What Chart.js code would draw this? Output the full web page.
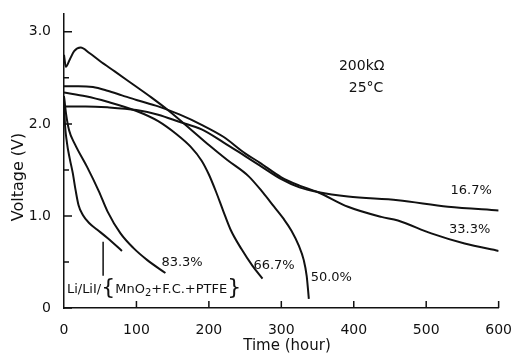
<!DOCTYPE html>
<html>
<head>
<meta charset="utf-8">
<script src="https://cdn.jsdelivr.net/npm/chart.js@4.4.0/dist/chart.umd.min.js"></script>
<style>
  html, body { margin: 0; padding: 0; background: #fff; }
</style>
</head>
<body>
<canvas id="chart" width="518" height="357"></canvas>
<script>
// discharge curves, time in hours, voltage in V
const t167 = [0, 30, 60, 100, 130, 160, 190, 220, 250, 270, 300, 325, 350, 392, 461, 530, 600];
const v167 = [2.19, 2.19, 2.18, 2.15, 2.10, 2.02, 1.94, 1.80, 1.65, 1.55, 1.40, 1.31, 1.26, 1.21, 1.17, 1.10, 1.06];

const t333 = [0, 20, 40, 60, 80, 100, 130, 160, 190, 220, 250, 270, 300, 325, 350, 392, 438, 461, 507, 553, 600];
const v333 = [2.41, 2.41, 2.40, 2.36, 2.31, 2.26, 2.19, 2.10, 1.99, 1.86, 1.68, 1.58, 1.42, 1.33, 1.26, 1.10, 0.99, 0.95, 0.81, 0.70, 0.62];

const t500 = [0, 2.5, 8, 14, 23, 35, 50, 70, 95, 120, 145, 175, 200, 225, 255, 275, 290, 303, 314, 324, 331, 335, 338];
const v500 = [2.75, 2.62, 2.70, 2.79, 2.83, 2.77, 2.68, 2.57, 2.43, 2.29, 2.14, 1.94, 1.77, 1.61, 1.43, 1.25, 1.10, 0.97, 0.84, 0.68, 0.52, 0.35, 0.10];

const t667 = [0, 30, 60, 100, 130, 155, 175, 190, 200, 210, 220, 230, 245, 260, 274];
const v667 = [2.34, 2.30, 2.24, 2.14, 2.03, 1.89, 1.75, 1.60, 1.45, 1.26, 1.05, 0.85, 0.64, 0.46, 0.32];

const t833 = [0, 3, 7, 15, 32, 48, 60, 78, 96, 115, 140];
const v833 = [2.30, 2.10, 1.93, 1.78, 1.53, 1.27, 1.05, 0.81, 0.65, 0.52, 0.38];

const tCell = [0, 1, 4, 8, 12, 16, 20, 26, 35, 46, 60, 80];
const vCell = [2.30, 2.05, 1.80, 1.62, 1.47, 1.28, 1.12, 1.01, 0.92, 0.85, 0.76, 0.62];

const xTicks = [0, 100, 200, 300, 400, 500, 600];
const yMajor = [0, 1, 2, 3];
const yMinor = [0.5, 1.5, 2.5];

// curve labels [text, time, voltage]
const curveLabels = [
  ['16.7%', 562, 1.27],
  ['33.3%', 560, 0.85],
  ['66.7%', 290, 0.46],
  ['50.0%', 369, 0.33],
  ['83.3%', 163, 0.49]
];
const pointerT = 54;
const pointerV = [0.35, 0.72];

const FONT = '"DejaVu Sans", sans-serif';
const INK = '#111';

const pts = (ts, vs) => ts.map((t, i) => ({ x: t, y: vs[i] }));

const series = [
  pts(t167, v167), pts(t333, v333), pts(t500, v500),
  pts(t667, v667), pts(t833, v833), pts(tCell, vCell)
];

const overlay = {
  id: 'overlay',
  afterDraw(chart) {
    const ctx = chart.ctx;
    const xs = chart.scales.x, ys = chart.scales.y;
    const area = chart.chartArea;
    ctx.save();
    ctx.strokeStyle = INK;
    ctx.fillStyle = INK;
    ctx.lineWidth = 1.5;

    // inward tick marks
    ctx.beginPath();
    yMajor.forEach(v => {
      const y = ys.getPixelForValue(v);
      ctx.moveTo(area.left, y); ctx.lineTo(area.left + 8, y);
    });
    yMinor.forEach(v => {
      const y = ys.getPixelForValue(v);
      ctx.moveTo(area.left, y); ctx.lineTo(area.left + 5, y);
    });
    xTicks.slice(1).forEach(t => {
      const x = xs.getPixelForValue(t);
      ctx.moveTo(x, area.bottom); ctx.lineTo(x, area.bottom - 7);
    });
    // pointer to the cell curve
    const px = xs.getPixelForValue(pointerT);
    ctx.moveTo(px, ys.getPixelForValue(pointerV[0]));
    ctx.lineTo(px, ys.getPixelForValue(pointerV[1]));
    ctx.stroke();

    ctx.textBaseline = 'middle';
    ctx.font = '13px ' + FONT;
    ctx.textAlign = 'center';
    curveLabels.forEach(([txt, t, v]) => {
      ctx.fillText(txt, xs.getPixelForValue(t), ys.getPixelForValue(v));
    });
    ctx.font = '14px ' + FONT;
    ctx.fillText('200kΩ', xs.getPixelForValue(411), ys.getPixelForValue(2.63));
    ctx.fillText('25°C', xs.getPixelForValue(417), ys.getPixelForValue(2.39));

    // cell composition
    let x = xs.getPixelForValue(4);
    const y = ys.getPixelForValue(0.2);
    ctx.textAlign = 'left';
    const put = (s, font, dy) => {
      ctx.font = font;
      ctx.fillText(s, x, y + (dy || 0));
      x += ctx.measureText(s).width;
    };
    put('Li/LiI/', '13px ' + FONT);
    put('{', '22px ' + FONT, -1);
    put('MnO', '13px ' + FONT);
    put('2', '10px ' + FONT, 4);
    put('+F.C.+PTFE', '13px ' + FONT);
    put('}', '22px ' + FONT, -1);

    // axis titles
    ctx.font = '15px ' + FONT;
    ctx.textAlign = 'center';
    ctx.fillText('Time (hour)', 287, 346);
    ctx.translate(19, 177);
    ctx.rotate(-Math.PI / 2);
    ctx.font = '16px ' + FONT;
    ctx.fillText('Voltage (V)', 0, 0);
    ctx.restore();
  }
};

new Chart(document.getElementById('chart'), {
  type: 'line',
  data: {
    datasets: series.map(d => ({
      data: d,
      borderColor: INK,
      borderWidth: 2,
      pointRadius: 0,
      fill: false,
      cubicInterpolationMode: 'monotone'
    }))
  },
  options: {
    responsive: false,
    animation: false,
    devicePixelRatio: 1,
    layout: { padding: { top: 13, right: 17, left: 0, bottom: 0 } },
    plugins: { legend: { display: false }, tooltip: { enabled: false } },
    scales: {
      x: {
        type: 'linear', min: 0, max: 600,
        afterFit: s => { s.height = 49; },
        grid: { display: false },
        border: { display: true, color: INK, width: 1.5 },
        ticks: { stepSize: 100, padding: 6, color: INK, font: { family: FONT, size: 14 } }
      },
      y: {
        type: 'linear', min: 0, max: 3.2,
        afterFit: s => { s.width = 64; },
        grid: { display: false },
        border: { display: true, color: INK, width: 1.5 },
        ticks: {
          stepSize: 0.5, padding: 5, color: INK, font: { family: FONT, size: 14 },
          callback: v => (v === 0 ? '0' : (Number.isInteger(v) ? v.toFixed(1) : ''))
        }
      }
    }
  },
  plugins: [overlay]
});
</script>
</body>
</html>
